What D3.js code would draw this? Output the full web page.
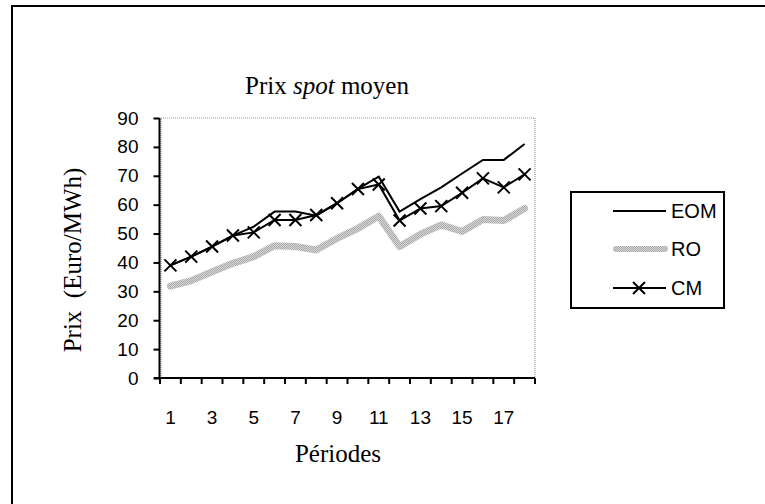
<!DOCTYPE html>
<html><head><meta charset="utf-8">
<script src="https://cdn.jsdelivr.net/npm/d3@7"></script>
<style>body{margin:0;background:#fff}svg{display:block}</style>
</head><body>
<svg id="c" width="765" height="504"></svg>
<script>
const periods = d3.range(1, 19);
const EOM = [39, 42, 45.5, 49.3, 52.4, 57.6, 57.6, 56.2, 60.5, 65.5, 69.7, 57.6, 61.9, 66, 70.8, 75.5, 75.5, 81];
const RO  = [31.8, 33.7, 36.8, 39.7, 42, 45.8, 45.5, 44.3, 48.3, 51.8, 56, 45.5, 49.8, 53, 50.7, 54.9, 54.5, 58.7];
const CM  = [39, 42, 45.5, 49.3, 50.4, 54.7, 54.7, 56.4, 60.5, 65.4, 67, 54.5, 58.7, 59.5, 64.1, 69.1, 66, 70.5];
const yTicks = [0,10,20,30,40,50,60,70,80,90];
const xLabels = [1,3,5,7,9,11,13,15,17];

const svg = d3.select("#c");
const defs = svg.append("defs");
const pat = defs.append("pattern").attr("id","stip").attr("width",2).attr("height",2).attr("patternUnits","userSpaceOnUse");
pat.append("rect").attr("width",2).attr("height",2).attr("fill","#d8d8d8");
pat.append("rect").attr("width",1).attr("height",1).attr("fill","#a8a8a8");
pat.append("rect").attr("x",1).attr("y",1).attr("width",1).attr("height",1).attr("fill","#a8a8a8");

// outer frame
svg.append("rect").attr("x",12).attr("y",6).attr("width",800).attr("height",600)
  .attr("fill","none").attr("stroke","#000").attr("stroke-width",2);

const L=160, R=535, T=118, B=378;
const x = d3.scaleBand().domain(periods).range([L,R]).padding(0);
const y = d3.scaleLinear().domain([0,90]).range([B,T]);
const cx = d => x(d)+x.bandwidth()/2;

// plot area border (gray dotted)
svg.append("rect").attr("x",L+1).attr("y",T).attr("width",R-L-1).attr("height",B-T)
  .attr("fill","none").attr("stroke","#999").attr("stroke-width",1.2).attr("stroke-dasharray","1,1");

// y axis
const ya = svg.append("g").attr("transform",`translate(${L-0.5},0)`)
  .call(d3.axisLeft(y).tickValues(yTicks).tickSize(6).tickPadding(15).tickFormat(d3.format("d")));
ya.select(".domain").attr("stroke","#000").attr("stroke-width",2).attr("d",`M0,${B}V${T}`);
ya.selectAll(".tick line").attr("stroke","#000").attr("stroke-width",2);
ya.selectAll("text").attr("font-family","Liberation Sans, Arial").attr("font-size",19).attr("fill","#000");

// x axis
const xa = svg.append("g").attr("transform",`translate(0,${B})`);
xa.append("line").attr("x1",L-6).attr("x2",R).attr("y1",0).attr("y2",0).attr("stroke","#000").attr("stroke-width",2);
const edges = periods.map(p=>x(p)).concat([R]);
xa.selectAll("line.t").data(edges).join("line").attr("class","t")
  .attr("x1",d=>d).attr("x2",d=>d).attr("y1",0).attr("y2",6).attr("stroke","#000").attr("stroke-width",2);
xa.selectAll("text").data(xLabels).join("text")
  .attr("x",d=>cx(d)).attr("y",46).attr("text-anchor","middle")
  .attr("font-family","Liberation Sans, Arial").attr("font-size",19).text(d=>d);

const line = d3.line().x((d,i)=>cx(periods[i])).y(d=>y(d));

// RO
svg.append("path").datum(RO).attr("d",line).attr("fill","none")
  .attr("stroke","url(#stip)").attr("stroke-width",7).attr("stroke-linejoin","round").attr("stroke-linecap","round");
// EOM
svg.append("path").datum(EOM).attr("d",line).attr("fill","none")
  .attr("stroke","#000").attr("stroke-width",2);
// CM
svg.append("path").datum(CM).attr("d",line).attr("fill","none")
  .attr("stroke","#000").attr("stroke-width",2);
const cross = (g, px, py) => {
  g.append("path").attr("d",`M${px-6},${py-6}L${px+6},${py+6}M${px-6},${py+6}L${px+6},${py-6}`)
   .attr("stroke","#000").attr("stroke-width",2);
};
const mk = svg.append("g");
CM.forEach((v,i)=>cross(mk, cx(periods[i]), y(v)));

// title
const title = svg.append("text").attr("x",327).attr("y",94).attr("text-anchor","middle")
  .attr("font-family","Liberation Serif, Times New Roman").attr("font-size",25);
title.append("tspan").text("Prix ");
title.append("tspan").attr("font-style","italic").text("spot");
title.append("tspan").text(" moyen");

// axis titles
svg.append("text").attr("transform","translate(81,260) rotate(-90)").attr("text-anchor","middle")
  .attr("font-family","Liberation Serif, Times New Roman").attr("font-size",25)
  .attr("xml:space","preserve").style("white-space","pre").text("Prix  (Euro/MWh)");
svg.append("text").attr("x",338).attr("y",462).attr("text-anchor","middle")
  .attr("font-family","Liberation Serif, Times New Roman").attr("font-size",25).text("Périodes");

// legend
const series = ["EOM","RO","CM"];
const lg = svg.append("g");
lg.append("rect").attr("x",571).attr("y",192).attr("width",153).attr("height",116)
  .attr("fill","#fff").attr("stroke","#000").attr("stroke-width",2);
const ly = [211,249,288];
series.forEach((s,i)=>{
  const yy = ly[i];
  if(s==="RO"){
    lg.append("line").attr("x1",616).attr("x2",665).attr("y1",yy).attr("y2",yy)
      .attr("stroke","url(#stip)").attr("stroke-width",6).attr("stroke-linecap","round");
  } else {
    lg.append("line").attr("x1",613).attr("x2",666).attr("y1",yy).attr("y2",yy)
      .attr("stroke","#000").attr("stroke-width",2);
  }
  if(s==="CM") cross(lg, 639, yy);
  lg.append("text").attr("x",671).attr("y",yy+7).attr("font-family","Liberation Sans, Arial")
    .attr("font-size",20).text(s);
});
</script>
</body></html>
